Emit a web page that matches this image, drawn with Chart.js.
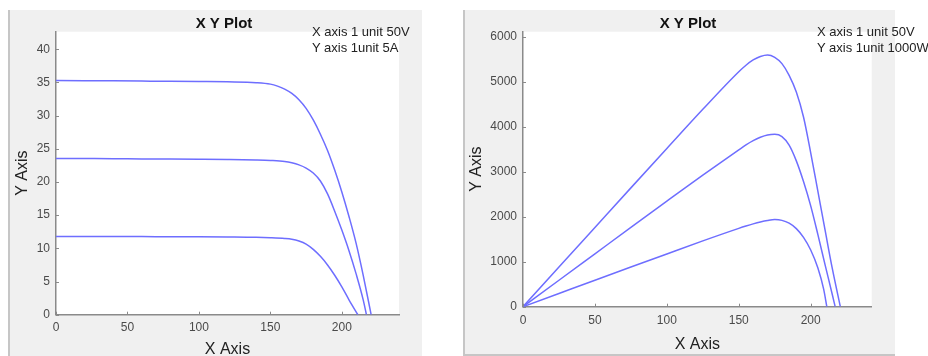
<!DOCTYPE html>
<html><head><meta charset="utf-8">
<script src="https://cdn.jsdelivr.net/npm/chart.js@4/dist/chart.umd.min.js"></script>
<style>
html,body{margin:0;padding:0;background:#fff;width:928px;height:356px;overflow:hidden;position:relative;font-family:"Liberation Sans",Arial,sans-serif;}
.panel{position:absolute;background:#f0f0f0;box-sizing:border-box;}
#p1{left:8px;top:10px;width:414px;height:346px;border-left:2px solid #c6c6c6;}
#p2{left:463px;top:10px;width:432px;height:346px;border-left:2px solid #c6c6c6;border-bottom:2px solid #c6c6c6;}
canvas{position:absolute;}
#c1{left:10px;top:10px;}
#c2{left:465px;top:10px;}
.note{position:absolute;font-size:13px;line-height:16px;color:#222;white-space:nowrap;}
</style></head>
<body>
<div class="panel" id="p1"></div><div class="panel" id="p2"></div>
<canvas id="c1" width="428" height="346"></canvas>
<canvas id="c2" width="446" height="346"></canvas>
<div class="note" style="left:312px;top:23.5px">X axis 1 unit 50V<br>Y axis 1unit 5A</div>
<div class="note" style="left:817px;top:23.5px">X axis 1 unit 50V<br>Y axis 1unit 1000W</div>
<script>
// ---- Left chart: current vs voltage (three curves) ----
const ivV_a = [0,20,40,60,80,100,120,140,150,155,160,165,170,175,180,185,190,195,200,205,210,215,220.5];
const ivI_a = [35.3,35.27,35.24,35.21,35.18,35.14,35.09,34.97,34.75,34.45,34.0,33.35,32.4,31.1,29.35,27.2,24.75,21.8,18.5,14.8,10.75,5.9,0];
const ivV_b = [0,20,40,60,80,100,120,140,150,160,165,170,175,180,185,190,195,200,205,210,215,217.2];
const ivI_b = [23.55,23.53,23.51,23.48,23.46,23.43,23.39,23.32,23.25,23.1,22.9,22.58,22.1,21.35,20.15,18.2,15.6,12.75,9.65,6.15,2.2,0];
const ivV_c = [0,20,40,60,80,100,120,140,150,160,165,170,175,180,185,190,195,200,205,211.2];
const ivI_c = [11.8,11.79,11.78,11.77,11.76,11.75,11.72,11.67,11.6,11.48,11.36,11.1,10.65,9.85,8.8,7.5,5.95,4.2,2.25,0];

// ---- Right chart: power vs voltage (three curves) ----
const pvV_a = [0,25,50,75,100,125,150,155,160,165,170,175,180,185,190,195,200,205,210,215,220.6];
const pvP_a = [0,880,1760,2640,3515,4385,5220,5365,5482,5560,5593,5540,5400,5140,4770,4215,3420,2560,1700,850,0];
const pvV_b = [0,25,50,75,100,125,150,155,160,165,170,175,180,185,190,195,200,205,210,215,217];
const pvP_b = [0,588,1175,1762,2345,2922,3485,3595,3690,3765,3815,3830,3780,3590,3240,2780,2240,1600,930,270,0];
const pvV_c = [0,25,50,75,100,125,150,155,160,165,170,175,180,185,190,195,200,205,209,211.2];
const pvP_c = [0,294,588,881,1172,1462,1740,1792,1840,1882,1915,1935,1918,1855,1735,1540,1260,860,390,0];

// ---- Text and tick labels ----
const chartTitle = 'X Y Plot';
const xTitle = 'X Axis';
const yTitle = 'Y Axis';
const xTicks = [0,50,100,150,200];
const yTicksIV = [0,5,10,15,20,25,30,35,40];
const yTicksPV = [0,1000,2000,3000,4000,5000,6000];

const FONT = '"Liberation Sans", Arial, sans-serif';
const AXC = '#8a8a8a';
const LINE = '#6e6eff';

const pts = (xs, ys) => xs.map((x, i) => ({x, y: ys[i]}));
const ds = (xs, ys) => ({data: pts(xs, ys), borderColor: LINE, borderWidth: 1.5, pointRadius: 0, fill: false, cubicInterpolationMode: 'monotone'});
const setTicks = arr => s => { s.ticks = arr.map(v => ({value: v})); };

const whiteArea = {
  id: 'whiteArea',
  beforeDraw(chart) {
    const {ctx, chartArea: a} = chart;
    ctx.save(); ctx.fillStyle = '#fff';
    ctx.fillRect(a.left, a.top, a.right - a.left, a.bottom - a.top);
    ctx.restore();
  }
};
const inTicks = {
  id: 'inTicks',
  afterDraw(chart) {
    const {ctx, chartArea: a, scales: {x, y}} = chart;
    ctx.save(); ctx.strokeStyle = AXC; ctx.lineWidth = 1;
    x.ticks.forEach(t => { const p = Math.round(x.getPixelForValue(t.value)) + 0.5; ctx.beginPath(); ctx.moveTo(p, a.bottom); ctx.lineTo(p, a.bottom - 3); ctx.stroke(); });
    y.ticks.forEach(t => { const p = Math.round(y.getPixelForValue(t.value)) + 0.5; ctx.beginPath(); ctx.moveTo(a.left, p); ctx.lineTo(a.left + 3, p); ctx.stroke(); });
    ctx.restore();
  }
};

function makeChart(id, datasets, o) {
  return new Chart(document.getElementById(id), {
    type: 'line',
    data: {datasets},
    plugins: [whiteArea, inTicks],
    options: {
      responsive: false, animation: false, devicePixelRatio: 1,
      layout: {padding: 0},
      plugins: {
        legend: {display: false}, tooltip: {enabled: false},
        title: {display: true, text: chartTitle, color: '#111', font: {family: FONT, size: 15, weight: 'bold', lineHeight: 1}, padding: {top: 6.5, bottom: 0.2}}
      },
      scales: {
        x: {
          type: 'linear', min: 0, max: o.xMax,
          afterBuildTicks: setTicks(xTicks),
          afterFit: s => { s.height = o.xH; },
          grid: {display: false, drawTicks: false},
          border: {display: true, color: AXC, width: 1.5},
          ticks: {padding: o.xPad, color: '#4a4a4a', font: {family: FONT, size: 12}, callback: v => String(v)},
          title: {display: true, text: xTitle, color: '#222', font: {family: FONT, size: 16, lineHeight: 1.2}, padding: {top: 0, bottom: o.xTitlePad}}
        },
        y: {
          type: 'linear', min: 0, max: o.yMax,
          afterBuildTicks: setTicks(o.yTicks),
          afterFit: s => { s.width = o.yW; },
          grid: {display: false, drawTicks: false},
          border: {display: true, color: AXC, width: 1.5},
          ticks: {padding: 6, color: '#4a4a4a', font: {family: FONT, size: 12}, callback: v => String(v)},
          title: {display: true, text: yTitle, color: '#222', font: {family: FONT, size: 16, lineHeight: 1.2}, padding: {top: o.yTitlePad, bottom: 0}}
        },
        gap: {
          type: 'linear', position: 'right', display: true,
          afterFit: s => { s.width = o.padRight; },
          grid: {display: false, drawTicks: false},
          border: {display: false},
          ticks: {display: false}
        }
      }
    }
  });
}

makeChart('c1', [ds(ivV_a, ivI_a), ds(ivV_b, ivI_b), ds(ivV_c, ivI_c)],
  {padRight: 39, xMax: 240, xH: 41.3, xPad: 6, xTitlePad: -3.6, yMax: 42.65, yTicks: yTicksIV, yW: 46, yTitlePad: 2.5});
makeChart('c2', [ds(pvV_a, pvP_a), ds(pvV_b, pvP_b), ds(pvV_c, pvP_c)],
  {padRight: 39.3, xMax: 242.4, xH: 49.3, xPad: 6.5, xTitlePad: 1.5, yMax: 6110, yTicks: yTicksPV, yW: 58, yTitlePad: 2.4});
</script>
</body></html>
